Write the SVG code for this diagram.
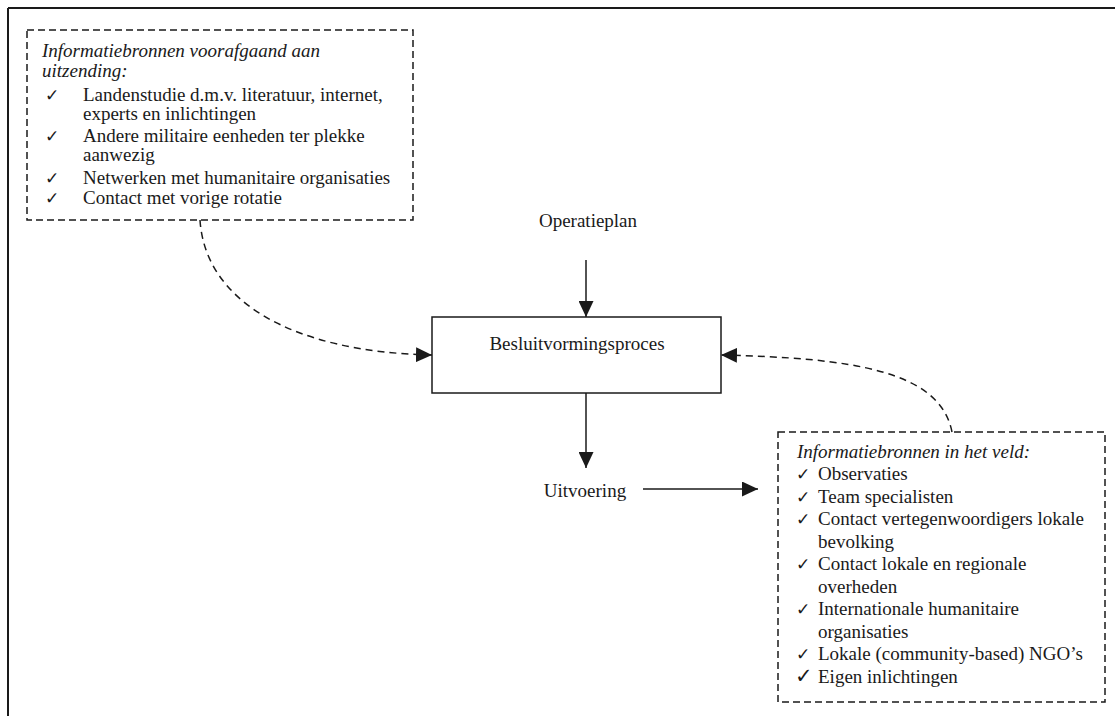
<svg xmlns="http://www.w3.org/2000/svg" width="1115" height="716" viewBox="0 0 1115 716">
<style>
text{font-family:"Liberation Serif","Times New Roman",serif;font-size:19px;fill:#1a1a1a}
.it{font-style:italic}
.ck{font-family:"DejaVu Sans",sans-serif;font-size:17px}
.dbox{fill:none;stroke:#1a1a1a;stroke-width:1.5;stroke-dasharray:7 4}
.solid{fill:none;stroke:#1a1a1a;stroke-width:1.5}
.dash{fill:none;stroke:#1a1a1a;stroke-width:1.5;stroke-dasharray:7 5}
</style>
<defs>
<marker id="ah" markerUnits="userSpaceOnUse" markerWidth="16" markerHeight="15" refX="16" refY="7.5" orient="auto">
<path d="M0,0 L16,7.5 L0,15 z" fill="#1a1a1a"/>
</marker>
</defs>
<rect width="1115" height="716" fill="#fff"/>
<g id="frame">
<path d="M8,8 H1115 M8,8 V716" fill="none" stroke="#1a1a1a" stroke-width="2"/>
</g>
<g id="pre-deploy">
<rect class="dbox" x="27" y="30" width="386" height="190"/>
<text class="it" x="42" y="57">Informatiebronnen voorafgaand aan</text>
<text class="it" x="42" y="77">uitzending:</text>
<text class="ck" x="45" y="101">✓</text><text x="83" y="101">Landenstudie d.m.v. literatuur, internet,</text>
<text x="83" y="120">experts en inlichtingen</text>
<text class="ck" x="45" y="142">✓</text><text x="83" y="142">Andere militaire eenheden ter plekke</text>
<text x="83" y="161">aanwezig</text>
<text class="ck" x="45" y="184">✓</text><text x="83" y="184">Netwerken met humanitaire organisaties</text>
<text class="ck" x="45" y="204">✓</text><text x="83" y="204">Contact met vorige rotatie</text>
</g>
<g id="operatieplan">
<text x="588" y="227" text-anchor="middle">Operatieplan</text>
</g>
<g id="besluitvorming">
<rect class="solid" x="432" y="317" width="289" height="76" fill="#fff"/>
<text x="577" y="350" text-anchor="middle">Besluitvormingsproces</text>
</g>
<g id="uitvoering">
<text x="585" y="497" text-anchor="middle">Uitvoering</text>
</g>
<g id="field">
<rect class="dbox" x="778" y="432" width="327" height="270"/>
<text class="it" x="797" y="458">Informatiebronnen in het veld:</text>
<text class="ck" x="796" y="480">✓</text><text x="818" y="480">Observaties</text>
<text class="ck" x="796" y="503">✓</text><text x="818" y="503">Team specialisten</text>
<text class="ck" x="796" y="525">✓</text><text x="818" y="525">Contact vertegenwoordigers lokale</text>
<text x="818" y="548">bevolking</text>
<text class="ck" x="796" y="570">✓</text><text x="818" y="570">Contact lokale en regionale</text>
<text x="818" y="593">overheden</text>
<text class="ck" x="796" y="615">✓</text><text x="818" y="615">Internationale humanitaire</text>
<text x="818" y="638">organisaties</text>
<text class="ck" x="796" y="660">✓</text><text x="818" y="660">Lokale (community-based) NGO’s</text>
<text class="ck" x="795" y="683" style="font-size:21px">✓</text><text x="818" y="683">Eigen inlichtingen</text>
</g>
<g id="connectors">
<path class="solid" d="M586,260 V317" marker-end="url(#ah)"/>
<path class="solid" d="M586,393 V468" marker-end="url(#ah)"/>
<path class="solid" d="M643,489 H758" marker-end="url(#ah)"/>
<path class="dash" d="M200,220 C205,300 290,352 432,355" marker-end="url(#ah)"/>
<path class="dash" d="M952,432 C940,370 850,358 721,355" marker-end="url(#ah)"/>
</g>
</svg>
